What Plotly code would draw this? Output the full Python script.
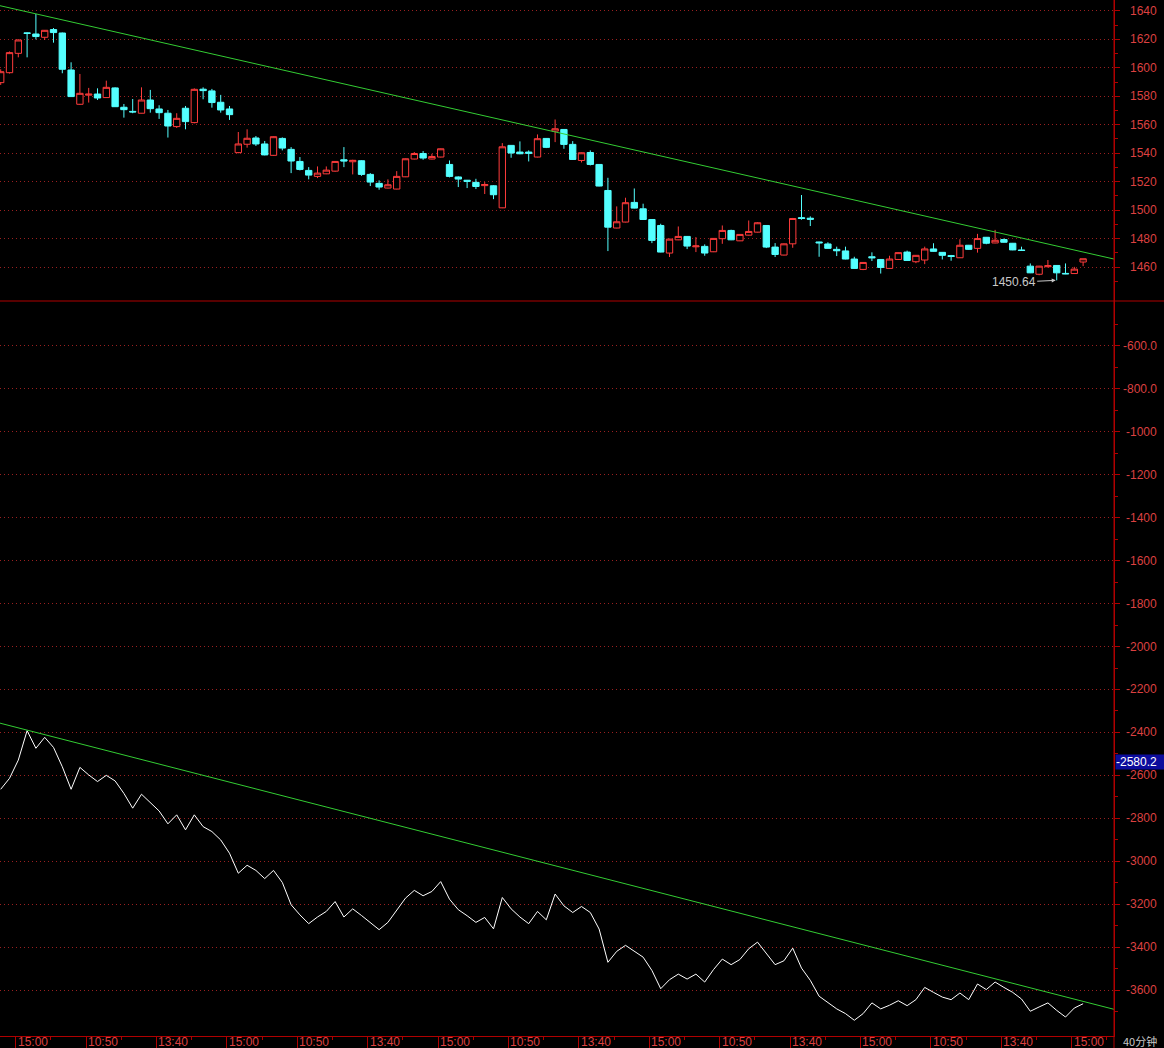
import plotly.graph_objects as go

# ---------------- data ----------------
bar_idx = list(range(124))

opens = [1589.6, 1596.6, 1610.2, 1624.6, 1623.8, 1621.5, 1626.9, 1624.5, 1598.5, 1574.4,
         1580.8, 1581.6, 1579.1, 1585.9, 1572.3, 1569.4, 1568.1, 1577.4, 1571.1, 1568.1,
         1558.7, 1571.6, 1561.5, 1585.0, 1583.8, 1575.8, 1571.1, 1540.4, 1546.3, 1550.7,
         1546.5, 1538.5, 1550.4, 1542.7, 1534.2, 1527.9, 1523.7, 1525.5, 1527.4, 1535.4,
         1534.0, 1534.7, 1525.1, 1518.8, 1515.5, 1514.8, 1523.4, 1535.9, 1539.8, 1535.9,
         1537.3, 1532.1, 1523.3, 1521.0, 1519.5, 1517.2, 1517.1, 1501.6, 1545.5, 1540.8,
         1540.8, 1537.3, 1550.4, 1555.5, 1556.7, 1546.2, 1534.9, 1540.5, 1532.1, 1513.8,
         1487.4, 1491.6, 1505.4, 1500.9, 1493.4, 1489.2, 1469.8, 1479.1, 1481.5, 1474.2,
         1474.5, 1470.7, 1479.9, 1485.7, 1478.4, 1482.4, 1484.5, 1489.2, 1474.0, 1468.4,
         1476.3, 1494.7, 1494.3, 1477.6, 1476.2, 1472.4, 1471.3, 1465.6, 1458.3, 1467.2,
         1465.3, 1459.0, 1465.3, 1470.5, 1463.7, 1464.9, 1472.7, 1470.3, 1468.0, 1466.5,
         1475.3, 1473.1, 1480.9, 1476.9, 1479.3, 1476.7, 1472.0, 1460.6, 1454.9, 1460.2,
         1461.1, 1455.5, 1455.4, 1463.5]
highs = [1599.0, 1611.5, 1620.0, 1625.0, 1637.9, 1626.6, 1628.0, 1624.8, 1603.9, 1595.7,
         1585.9, 1585.6, 1591.0, 1586.3, 1574.6, 1578.1, 1586.3, 1584.5, 1573.7, 1570.4,
         1568.1, 1573.2, 1585.6, 1586.3, 1585.2, 1581.0, 1573.2, 1554.9, 1556.8, 1552.1,
         1548.6, 1551.8, 1551.1, 1544.3, 1537.3, 1530.2, 1530.7, 1530.7, 1534.5, 1544.3,
         1535.4, 1535.0, 1526.0, 1520.9, 1521.6, 1527.4, 1536.3, 1540.8, 1541.5, 1539.6,
         1543.3, 1534.9, 1523.7, 1521.2, 1522.0, 1519.7, 1517.5, 1547.1, 1545.7, 1548.3,
         1542.0, 1553.2, 1550.6, 1563.7, 1556.9, 1548.5, 1540.5, 1542.0, 1532.3, 1522.7,
         1502.6, 1508.7, 1515.2, 1504.5, 1493.6, 1490.4, 1479.8, 1488.5, 1481.7, 1481.0,
         1475.9, 1480.3, 1489.2, 1486.2, 1483.1, 1492.7, 1491.5, 1489.4, 1476.8, 1476.5,
         1494.5, 1510.6, 1495.6, 1477.8, 1477.4, 1474.3, 1474.3, 1467.2, 1463.4, 1470.3,
         1465.5, 1467.9, 1470.3, 1471.5, 1468.4, 1474.3, 1476.7, 1470.5, 1468.5, 1479.5,
         1475.5, 1483.3, 1481.1, 1486.1, 1480.0, 1476.9, 1474.3, 1462.5, 1460.8, 1464.9,
         1461.3, 1462.5, 1460.1, 1465.8]
lows = [1588.0, 1596.0, 1607.4, 1607.4, 1620.0, 1619.6, 1617.7, 1596.2, 1579.5, 1574.0,
        1575.6, 1577.4, 1579.0, 1572.5, 1565.0, 1568.1, 1568.0, 1568.5, 1564.1, 1551.0,
        1557.7, 1556.8, 1561.0, 1577.9, 1572.0, 1568.5, 1563.4, 1540.0, 1543.9, 1545.1,
        1538.5, 1538.2, 1542.0, 1526.0, 1527.9, 1521.6, 1522.5, 1525.3, 1527.0, 1530.2,
        1525.1, 1524.1, 1516.9, 1514.3, 1515.3, 1514.6, 1523.2, 1535.7, 1535.4, 1535.7,
        1537.1, 1523.0, 1516.2, 1515.5, 1514.8, 1511.3, 1507.7, 1501.4, 1536.8, 1539.3,
        1534.2, 1537.1, 1543.6, 1547.8, 1543.1, 1535.4, 1533.5, 1531.4, 1516.7, 1471.2,
        1487.2, 1491.4, 1501.2, 1493.2, 1476.8, 1470.3, 1467.0, 1478.9, 1472.6, 1470.5,
        1467.9, 1470.5, 1476.3, 1478.9, 1478.2, 1482.2, 1484.3, 1473.3, 1467.0, 1468.2,
        1473.5, 1493.2, 1488.8, 1467.2, 1473.0, 1467.7, 1465.4, 1458.8, 1457.8, 1464.2,
        1455.4, 1458.8, 1465.1, 1464.4, 1462.7, 1462.0, 1470.8, 1465.3, 1464.4, 1466.3,
        1472.0, 1470.1, 1476.0, 1476.7, 1477.2, 1471.8, 1471.5, 1455.7, 1454.2, 1459.7,
        1450.64, 1455.0, 1455.2, 1460.6]
closes = [1597.3, 1610.7, 1619.6, 1624.2, 1622.0, 1626.4, 1624.8, 1599.0, 1579.8, 1582.1,
          1581.5, 1578.8, 1586.3, 1572.7, 1570.6, 1569.0, 1577.4, 1571.3, 1568.5, 1559.1,
          1564.5, 1562.2, 1584.9, 1584.0, 1575.6, 1570.4, 1567.1, 1546.5, 1550.5, 1546.5,
          1538.8, 1551.6, 1543.6, 1534.5, 1528.6, 1524.6, 1526.0, 1528.1, 1534.2, 1534.5,
          1535.0, 1525.1, 1519.7, 1516.2, 1517.8, 1523.7, 1536.1, 1539.8, 1536.6, 1537.7,
          1543.1, 1523.7, 1521.8, 1520.2, 1516.6, 1518.0, 1510.8, 1544.5, 1540.1, 1539.6,
          1539.9, 1550.2, 1544.1, 1557.2, 1546.2, 1535.6, 1540.3, 1532.1, 1516.9, 1488.0,
          1491.8, 1505.2, 1501.4, 1493.4, 1478.7, 1470.5, 1479.6, 1481.5, 1474.7, 1474.8,
          1469.8, 1480.1, 1485.7, 1479.1, 1482.9, 1485.0, 1491.1, 1474.0, 1468.8, 1476.3,
          1494.1, 1494.1, 1493.6, 1477.0, 1473.1, 1471.4, 1465.6, 1459.0, 1463.2, 1466.5,
          1459.7, 1465.6, 1470.1, 1464.6, 1468.2, 1472.7, 1471.0, 1468.2, 1467.4, 1475.3,
          1472.4, 1480.0, 1476.7, 1478.8, 1477.4, 1472.0, 1471.6, 1455.9, 1460.6, 1460.9,
          1455.9, 1455.2, 1458.5, 1465.8]

indicator = [-2665, -2614, -2529, -2392, -2474, -2423, -2470, -2560, -2665, -2563,
             -2598, -2629, -2600, -2626, -2684, -2753, -2688, -2727, -2766, -2826,
             -2784, -2854, -2784, -2839, -2862, -2901, -2963, -3056, -3019, -3043,
             -3081, -3043, -3099, -3203, -3250, -3291, -3260, -3234, -3188, -3260,
             -3222, -3253, -3286, -3319, -3285, -3226, -3172, -3136, -3161, -3141,
             -3095, -3177, -3226, -3254, -3285, -3262, -3315, -3169, -3222, -3260,
             -3291, -3234, -3273, -3153, -3208, -3239, -3211, -3239, -3316, -3471,
             -3420, -3392, -3420, -3447, -3509, -3594, -3552, -3526, -3549, -3526,
             -3563, -3505, -3456, -3482, -3458, -3408, -3377, -3428, -3482, -3464,
             -3405, -3498, -3555, -3629, -3657, -3688, -3710, -3741, -3710, -3660,
             -3688, -3671, -3650, -3673, -3645, -3588, -3611, -3633, -3645, -3614,
             -3645, -3572, -3598, -3563, -3588, -3611, -3642, -3699, -3679, -3660,
             -3695, -3726, -3684, -3664]

trend_x = [-0.08, 126.51]
trend_price = [1643.7, 1465.6]
trend_indicator = [-2357, -3690]

x_tick_idx = [2, 10, 18, 26, 34, 42, 50, 58, 66, 74, 82, 90, 98, 106, 114, 122]
x_tick_labels = ["15:00", "10:50", "13:40", "15:00", "10:50", "13:40", "15:00", "10:50",
                 "13:40", "15:00", "10:50", "13:40", "15:00", "10:50", "13:40", "15:00"]

price_ticks = [1460, 1480, 1500, 1520, 1540, 1560, 1580, 1600, 1620, 1640]
price_tick_labels = ["1460", "1480", "1500", "1520", "1540", "1560", "1580", "1600", "1620", "1640"]
ind_ticks = [-600, -800, -1000, -1200, -1400, -1600, -1800, -2000, -2200, -2400,
             -2600, -2800, -3000, -3200, -3400, -3600]
ind_tick_labels = ["-600.0", "-800.0", "-1000", "-1200", "-1400", "-1600", "-1800", "-2000",
                   "-2200", "-2400", "-2600", "-2800", "-3000", "-3200", "-3400", "-3600"]

low_mark_idx = 120
low_mark_value = 1450.64
last_marker_value = -2580.2
period_label = "40分钟"

# ---------------- style ----------------
RED = "#ff3c3c"
CYAN = "#54ffff"
AXIS_RED = "#b00000"
LABEL_RED = "#dc4040"
GRID_RED = "#9a2020"
GREEN = "#33cc33"
FONT = "Liberation Sans, Arial, sans-serif"

W, H = 1164, 1048
L, R, T, B = 0, 50, 0, 12
PW = W - L - R
PH = H - T - B
split = 1 - 301 / PH

fig = go.Figure()

fig.add_trace(go.Candlestick(
    x=bar_idx, open=opens, high=highs, low=lows, close=closes,
    xaxis="x", yaxis="y",
    increasing=dict(line=dict(color=RED, width=1), fillcolor="#000000"),
    decreasing=dict(line=dict(color=CYAN, width=1), fillcolor=CYAN),
    whiskerwidth=0, showlegend=False, hoverinfo="skip"))

fig.add_trace(go.Scatter(x=trend_x, y=trend_price, mode="lines", xaxis="x", yaxis="y",
                         line=dict(color=GREEN, width=1), showlegend=False, hoverinfo="skip"))

fig.add_trace(go.Scatter(x=bar_idx, y=indicator, mode="lines", xaxis="x2", yaxis="y2",
                         line=dict(color="#ffffff", width=1), showlegend=False, hoverinfo="skip"))
fig.add_trace(go.Scatter(x=trend_x, y=trend_indicator, mode="lines", xaxis="x2", yaxis="y2",
                         line=dict(color=GREEN, width=1), showlegend=False, hoverinfo="skip"))

xr = [-0.08, 126.51]
common_y = dict(side="right", showticklabels=False, ticks="outside", ticklen=5,
                tickcolor=AXIS_RED, showline=True, linecolor=AXIS_RED, linewidth=1,
                showgrid=True, gridcolor=GRID_RED, griddash="1px,3px", gridwidth=1,
                zeroline=False, fixedrange=True)

fig.update_layout(
    width=W, height=H,
    margin=dict(l=L, r=R, t=T, b=B, pad=0),
    paper_bgcolor="#000000", plot_bgcolor="#000000",
    boxgap=0.28, boxgroupgap=0,
    showlegend=False,
    xaxis=dict(domain=[0, 1], range=xr, anchor="y", showticklabels=False, ticks="",
               showgrid=False, zeroline=False, showline=False,
               rangeslider=dict(visible=False)),
    yaxis=dict(domain=[split, 1], range=[1436.1, 1647.7], anchor="x",
               tickvals=price_ticks,
               minor=dict(tickmode="linear", tick0=1450, dtick=20, ticks="outside",
                          ticklen=3, tickcolor=AXIS_RED, showgrid=False),
               **common_y),
    xaxis2=dict(domain=[0, 1], range=xr, anchor="y2", matches="x",
                tickvals=[t - 0.3 for t in x_tick_idx], ticktext=x_tick_labels,
                showticklabels=False, ticks="outside", ticklen=12, tickcolor=AXIS_RED,
                minor=dict(tickmode="linear", tick0=5.7, dtick=8, ticks="outside",
                           ticklen=3, tickcolor=AXIS_RED),
                showline=True, linecolor=AXIS_RED, showgrid=False, zeroline=False),
    yaxis2=dict(domain=[0, split], range=[-3814.3, -390.4], anchor="x2",
                tickvals=ind_ticks,
                minor=dict(tickmode="linear", tick0=-500, dtick=200, ticks="outside",
                           ticklen=3, tickcolor=AXIS_RED, showgrid=False),
                **common_y),
)

annotations = []
label_x = 1159 / PW
for v, t in zip(price_ticks, price_tick_labels):
    annotations.append(dict(x=label_x, xref="paper", y=v, yref="y", text=t,
                            xanchor="right", yanchor="middle", showarrow=False,
                            font=dict(family=FONT, size=12, color=LABEL_RED)))
for v, t in zip(ind_ticks, ind_tick_labels):
    annotations.append(dict(x=label_x, xref="paper", y=v, yref="y2", text=t,
                            xanchor="right", yanchor="middle", showarrow=False,
                            font=dict(family=FONT, size=12, color=LABEL_RED)))
for v, t in zip(x_tick_idx, x_tick_labels):
    annotations.append(dict(x=v - 0.3, xref="x2", y=0, yref="paper", text=t,
                            xanchor="left", yanchor="top", xshift=1, yshift=2,
                            showarrow=False, borderpad=0,
                            font=dict(family=FONT, size=12, color=LABEL_RED)))

annotations.append(dict(x=1140 / PW, xref="paper", y=0, yref="paper", text=period_label,
                        xanchor="center", yanchor="top", yshift=4, showarrow=False,
                        borderpad=0,
                        font=dict(family="Noto Sans CJK SC", size=11, color="#c8c8c8")))

annotations.append(dict(x=1115 / PW, xref="paper", y=last_marker_value, yref="y2",
                        text=f"{last_marker_value:.1f}", xanchor="left", yanchor="middle",
                        yshift=9, showarrow=False, bgcolor="#0c0c9c", borderpad=0,
                        width=48, align="left",
                        font=dict(family=FONT, size=12, color="#ffffff")))

annotations.append(dict(x=low_mark_idx, xref="x", y=low_mark_value, yref="y",
                        text=f"{low_mark_value:.2f}", showarrow=True, ax=-43, ay=2,
                        arrowhead=2, arrowsize=0.8, arrowwidth=1, arrowcolor="#c8c8c8",
                        standoff=1,
                        font=dict(family=FONT, size=12, color="#c8c8c8")))

fig.update_layout(annotations=annotations)

shapes = [
    dict(type="line", xref="paper", yref="paper", x0=0, x1=W / PW, y0=split, y1=split,
         line=dict(color=AXIS_RED, width=1)),
    dict(type="line", xref="paper", yref="paper", x0=1, x1=1, y0=-B / PH, y1=1,
         line=dict(color=AXIS_RED, width=1)),
]
fig.update_layout(shapes=shapes)

fig.write_html("out.html",
               config={"displayModeBar": False, "staticPlot": True},
               post_script="document.body.style.margin='0px';document.body.style.overflow='hidden';")
